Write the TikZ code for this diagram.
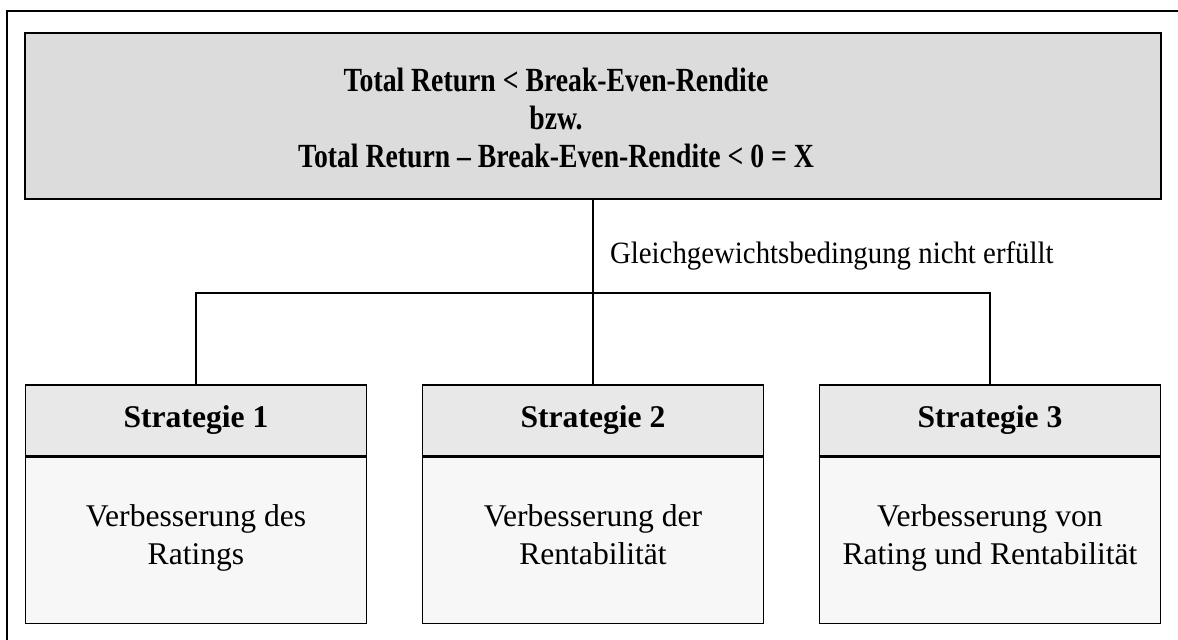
\documentclass[tikz,border=0pt]{standalone}
\usepackage{fontspec}
\setmainfont{Liberation Serif}
\newfontfamily\condfont[Ligatures=TeX, FakeStretch=0.82]{Liberation Serif}
\newfontfamily\notefont[Ligatures=TeX, FakeStretch=0.93]{Liberation Serif}
\usetikzlibrary{trees,positioning}
\definecolor{condgray}{RGB}{220,220,220}
\definecolor{headgray}{RGB}{232,232,232}
\definecolor{bodygray}{RGB}{247,247,247}
\tikzstyle{frame} = [draw, line width=0.8pt]
\tikzstyle{cond} = [rectangle, draw, line width=0.8pt, fill=condgray, minimum width=568pt, minimum height=83pt]
\tikzstyle{condtext} = [align=center, font=\condfont\fontsize{16.9}{18.9}\selectfont\bfseries]
\tikzstyle{strathead} = [rectangle, draw, line width=0.7pt, fill=headgray, minimum width=170.5pt, minimum height=35.5pt, font=\fontsize{15.8}{19}\selectfont\bfseries]
\tikzstyle{stratbody} = [rectangle, draw, line width=0.7pt, fill=bodygray, minimum width=170.5pt, minimum height=83pt, align=center, font=\fontsize{15.8}{19}\selectfont]
\tikzstyle{note} = [font=\notefont\fontsize{15.5}{17}\selectfont]

\begin{document}
\begin{tikzpicture}[
x=0.5pt, y=0.5pt,
level distance=152.25pt,
sibling distance=198.5pt,
parent anchor=south, child anchor=north,
edge from parent/.style={draw, line width=0.7pt},
edge from parent path={(\tikzparentnode\tikzparentanchor) -- +(0pt,-46.5pt) -| (\tikzchildnode\tikzchildanchor)}]
\useasboundingbox (0,0) rectangle (1178,639);
\clip (0,0) rectangle (1178,639);
% outer frame, only left and top edge on the page
\draw[frame] (7,-20) rectangle (1200,628);

\node[cond] (cond) at (593,523) {}
child { node[strathead] {Strategie 1} }
child { node[strathead] {Strategie 2} }
child { node[strathead] {Strategie 3} }
;
% text sits a bit left of the box centre
\node[condtext] (condtext) at ([xshift=-18.5pt, yshift=-1pt]cond.center) {Total Return < Break-Even-Rendite\\bzw.\\Total Return -- Break-Even-Rendite < 0 = X};

\node[stratbody, below=0pt of cond-1] (body-1) {Verbesserung des\\Ratings\strut};
\node[stratbody, below=0pt of cond-2] (body-2) {Verbesserung der\\Rentabilität\strut};
\node[stratbody, below=0pt of cond-3] (body-3) {Verbesserung von\\Rating und Rentabilität\strut};

\node[note, anchor=base west] (unmet) at (603,376) {Gleichgewichtsbedingung nicht erfüllt};
\end{tikzpicture}
\end{document}
